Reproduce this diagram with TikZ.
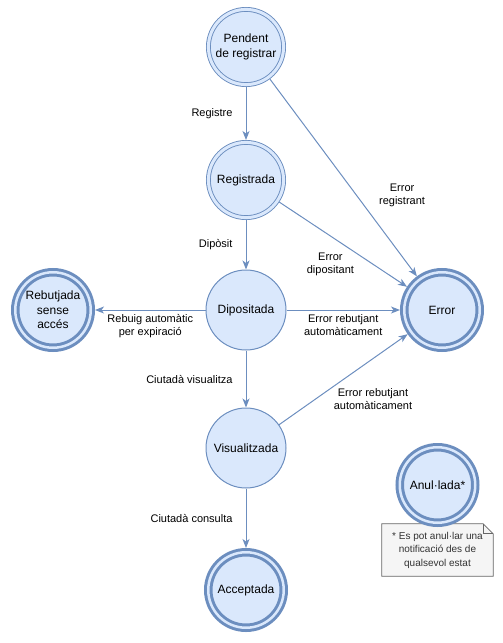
\documentclass[tikz,border=0pt]{standalone}
\usepackage{fontspec}
\setmainfont{Liberation Sans}
\usetikzlibrary{arrows.meta, positioning, backgrounds}
\definecolor{stateFill}{HTML}{DAE8FC}
\definecolor{stateLine}{HTML}{6C8EBF}
\definecolor{noteFill}{HTML}{F5F5F5}
\definecolor{noteLine}{HTML}{666666}
\definecolor{noteText}{HTML}{333333}

\begin{document}
\begin{tikzpicture}[
  x=1pt, y=-1pt,
  state/.style={circle, draw=stateLine, fill=stateFill, line width=1pt, minimum size=80pt, inner sep=1pt, align=center, font=\fontsize{12}{14.5}\selectfont},
  dstate/.style={state, line width=0.9pt, double=stateFill, double distance=3pt, minimum size=75.2pt, outer sep=2.4pt},
  final/.style={state, line width=3pt, double=stateFill, double distance=2.5pt, minimum size=75.5pt, outer sep=4.25pt},
  lbl/.style={font=\fontsize{11}{13}\selectfont, align=center, inner sep=1pt},
  trans/.style={->, draw=stateLine, line width=1pt},
  >={Stealth[length=9pt, width=7pt, inset=2.5pt]},
]
  \useasboundingbox (0,0) rectangle (503,643);

  % states
  \node[dstate] (pendent) at (246,47) {Pendent\\de registrar};
  \node[dstate] (registrada) at (246,180) {Registrada};
  \node[state] (dipositada) at (246,310) {Dipositada};
  \node[state] (visualitzada) at (246,448) {Visualitzada};
  \node[final] (acceptada) at (246,590) {Acceptada};
  \node[final] (rebutjada) at (53,310) {Rebutjada\\sense\\accés};
  \node[final] (error) at (442,310) {Error};
  \node[final] (anullada) at (437.5,485) {Anul·lada*};

  % note
  \node[lbl, font=\fontsize{10}{13.5}\selectfont, text=noteText, minimum width=111pt, minimum height=52pt, inner sep=0pt] (nota) at (437.5,550) {* Es pot anul·lar una\\notificació des de\\qualsevol estat};
  \begin{scope}[on background layer]
    \draw[noteLine, fill=noteFill, line width=0.8pt] (nota.south west) -- (nota.north west) -- ([xshift=-10pt]nota.north east) -- ([yshift=-10pt]nota.north east) -- (nota.south east) -- cycle;
    \draw[noteLine, line width=0.8pt] ([xshift=-10pt]nota.north east) -- ([xshift=-10pt,yshift=-10pt]nota.north east) -- ([yshift=-10pt]nota.north east);
  \end{scope}

  % transitions
  \draw[trans] (pendent) -- node[lbl, left=12pt] {Registre} (registrada);
  \draw[trans] (registrada) -- node[lbl, left=12pt] {Dipòsit} (dipositada);
  \draw[trans] (dipositada) -- node[lbl, left=12pt] {Ciutadà visualitza} (visualitzada);
  \draw[trans] (visualitzada) -- node[lbl, left=12pt] {Ciutadà consulta} (acceptada);
  \draw[trans] (dipositada) -- node[lbl, below=3pt] {Rebuig automàtic\\per expiració} (rebutjada);
  \draw[trans] (dipositada) -- node[lbl, below=3pt] {Error rebutjant\\automàticament} (error);
  \draw[trans] (pendent) -- node[lbl, pos=0.59, right=21pt] {Error\\registrant} (error);
  \draw[trans] (registrada) -- node[lbl, pos=0.4, below=15pt] {Error\\dipositant} (error);
  \draw[trans] (visualitzada) -- node[lbl, pos=0.73, below=28pt] {Error rebutjant\\automàticament} (error);
\end{tikzpicture}
\end{document}
